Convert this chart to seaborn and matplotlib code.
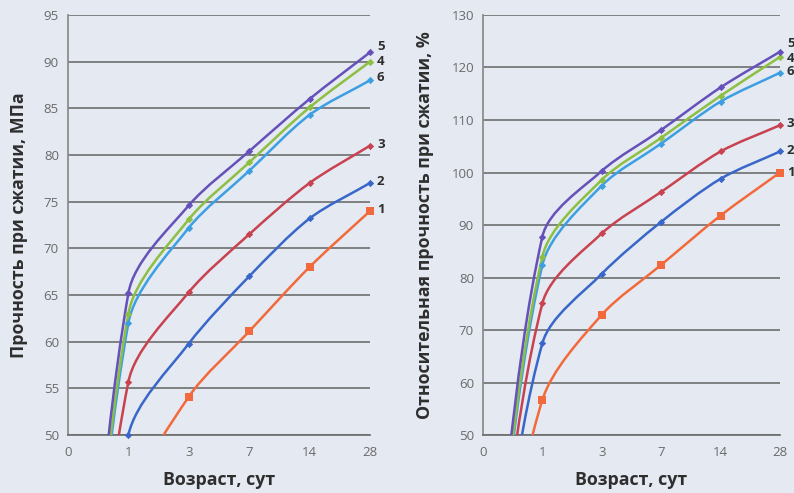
import numpy as np
import pandas as pd
import matplotlib
matplotlib.use("Agg")
import matplotlib.pyplot as plt
from matplotlib.path import Path
from matplotlib.patches import PathPatch
import seaborn as sns

# age categories (days), equally spaced on the axis
ages = ["0", "1", "3", "7", "14", "28"]

# compressive strength, MPa (curves 1..6)
mpa_1 = [0, 42.0, 54.1, 61.1, 68.0, 74.0]
mpa_2 = [0, 50.0, 59.8, 67.0, 73.2, 77.0]
mpa_3 = [0, 55.7, 65.3, 71.5, 77.0, 81.0]
mpa_4 = [0, 63.0, 73.1, 79.2, 85.1, 90.0]
mpa_5 = [0, 65.2, 74.6, 80.4, 86.0, 91.0]
mpa_6 = [0, 62.0, 72.2, 78.3, 84.3, 88.0]

# relative compressive strength, % (curves 1..6)
pct_1 = [0, 56.7, 72.9, 82.4, 91.8, 100.0]
pct_2 = [0, 67.5, 80.7, 90.6, 98.8, 104.0]
pct_3 = [0, 75.1, 88.4, 96.3, 104.0, 109.0]
pct_4 = [0, 84.0, 98.6, 106.6, 114.6, 122.0]
pct_5 = [0, 87.8, 100.3, 108.1, 116.2, 123.0]
pct_6 = [0, 82.4, 97.5, 105.5, 113.5, 119.0]

curve_names = ["1", "2", "3", "4", "5", "6"]
colors = ["#f26a3c", "#3867c9", "#c8424f", "#8cbf42", "#6551b9", "#3c9fe3"]
markers = ["s", "D", "D", "D", "D", "D"]
marker_sizes = [40, 14, 14, 14, 14, 14]
draw_order = [0, 1, 2, 5, 3, 4]

bg = "#e5e9f2"
grid_col = "#6e6e6e"
tick_col = "#6a6a6a"
text_col = "#2e2e2e"

sns.set_theme(style="white")
plt.rcParams["font.family"] = ["Open Sans", "DejaVu Sans"]


def smooth_path(ax, xs, ys, tension=0.3):
    # Excel-like smoothed line: Bezier built in screen space, then mapped back
    pts = ax.transData.transform(np.column_stack([xs, ys]).astype(float))
    n = len(pts)
    tang = []
    for k in range(n):
        d = pts[min(k + 1, n - 1)] - pts[max(k - 1, 0)]
        tang.append(d / np.hypot(*d))
    verts = [pts[0]]
    codes = [Path.MOVETO]
    for k in range(n - 1):
        seg = np.hypot(*(pts[k + 1] - pts[k]))
        verts += [pts[k] + tang[k] * seg * tension,
                  pts[k + 1] - tang[k + 1] * seg * tension,
                  pts[k + 1]]
        codes += [Path.CURVE4] * 3
    verts = ax.transData.inverted().transform(np.array(verts))
    return Path(verts, codes)


def draw_panel(ax, series, yticks, ylabel, label_offsets, ylabel_x):
    xs = np.arange(len(ages))
    ax.set_facecolor(bg)
    ax.set_xlim(0, len(ages) - 1)
    ax.set_ylim(yticks[0], yticks[-1])
    for y in yticks:
        ax.axhline(y, color=grid_col, lw=1.2, zorder=1)
    for i in draw_order:
        vals = series[i]
        patch = PathPatch(smooth_path(ax, xs, vals), facecolor="none",
                          edgecolor=colors[i], lw=1.8, zorder=3)
        ax.add_patch(patch)
        df = pd.DataFrame({"pos": xs[1:], "val": vals[1:]})
        sns.scatterplot(data=df, x="pos", y="val", ax=ax, color=colors[i],
                        marker=markers[i], s=marker_sizes[i], linewidth=0,
                        zorder=4, clip_on=False, legend=False)
        ax.annotate(curve_names[i], (xs[-1], vals[-1]),
                    xytext=label_offsets[i], textcoords="offset points",
                    fontsize=9.5, fontweight="bold", color=text_col,
                    va="center", ha="left", annotation_clip=False)
    ax.set_xlim(0, len(ages) - 1)
    ax.set_ylim(yticks[0], yticks[-1])
    ax.set_xticks(xs)
    ax.set_xticklabels(ages)
    ax.set_yticks(yticks)
    ax.tick_params(axis="both", labelsize=9.5, colors=tick_col)
    ax.tick_params(axis="y", direction="inout", length=5, width=1, pad=4,
                   color=grid_col)
    ax.tick_params(axis="x", length=0, pad=8)
    for s in ["top", "right"]:
        ax.spines[s].set_visible(False)
    ax.spines["left"].set_color("#8a8a8a")
    ax.spines["bottom"].set_color(grid_col)
    ax.set_xlabel("Возраст, сут", fontsize=12.8, fontweight="bold", color=text_col)
    ax.set_ylabel(ylabel, fontsize=12.8, fontweight="bold", color=text_col)
    ax.xaxis.set_label_coords(0.5, -0.085)
    ax.yaxis.set_label_coords(ylabel_x, 0.5)


fig = plt.figure(figsize=(7.94, 4.93), dpi=100)
fig.patch.set_facecolor(bg)

ax1 = fig.add_axes([0.0856, 0.1176, 0.3804, 0.852])
ax2 = fig.add_axes([0.6083, 0.1176, 0.3740, 0.852])

left_offsets = [(5, 1), (5, 1), (5, 1), (5, 0), (5, 4), (5, 2)]
right_offsets = [(5, 0), (5, 1), (5, 1), (5, -1), (5, 6), (5, 1)]

draw_panel(ax1, [mpa_1, mpa_2, mpa_3, mpa_4, mpa_5, mpa_6],
           list(range(50, 96, 5)), "Прочность при сжатии, МПа",
           left_offsets, -0.132)
draw_panel(ax2, [pct_1, pct_2, pct_3, pct_4, pct_5, pct_6],
           list(range(50, 131, 10)), "Относительная прочность при сжатии, %",
           right_offsets, -0.166)

fig.savefig("out.png", dpi=100, facecolor=bg)
plt.close(fig)
